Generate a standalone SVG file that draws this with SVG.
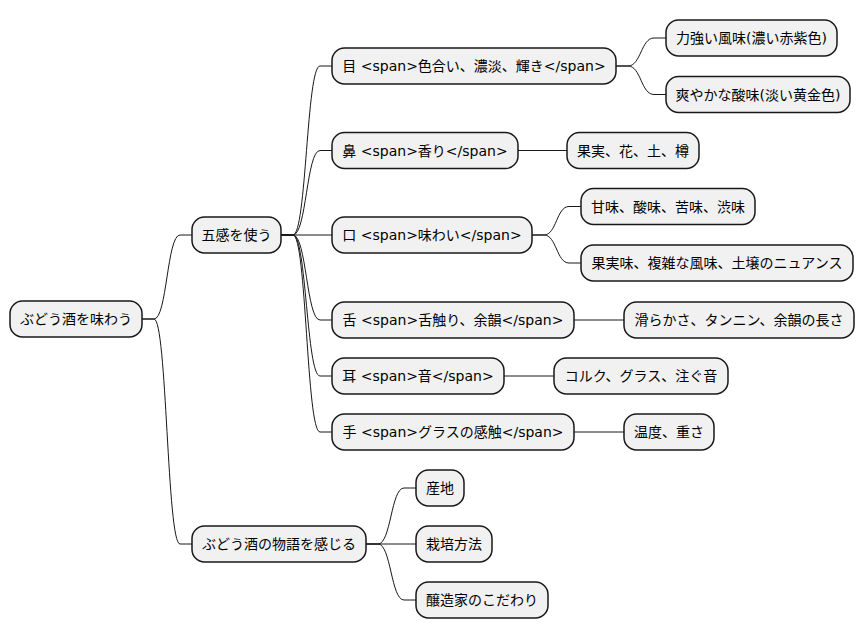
<svg xmlns="http://www.w3.org/2000/svg" width="864" height="640" viewBox="0 0 864 640">
<style>
.n rect{fill:#F1F1F1;stroke:#181818;stroke-width:1.5}
.n text{font-family:"DejaVu Sans","Noto Sans CJK JP",sans-serif;font-size:14px;fill:#000;text-anchor:middle}
#edges path{fill:none;stroke:#181818;stroke-width:1}
</style>
<rect width="864" height="640" fill="#FFFFFF"/>
<g id="edges">
<path d="M142 319 L154 319 C167 319 167 235 180 235 L192 235"/>
<path d="M142 319 L154 319 C167 319 167 544 180 544 L192 544"/>
<path d="M281 235 L293 235 C306.5 235 306.5 66 320 66 L332 66"/>
<path d="M281 235 L293 235 C306.5 235 306.5 150.5 320 150.5 L332 150.5"/>
<path d="M281 235 L332 235"/>
<path d="M281 235 L293 235 C306.5 235 306.5 320 320 320 L332 320"/>
<path d="M281 235 L293 235 C306.5 235 306.5 376 320 376 L332 376"/>
<path d="M281 235 L293 235 C306.5 235 306.5 432 320 432 L332 432"/>
<path d="M616 66 L628 66 C641 66 641 38 654 38 L666 38"/>
<path d="M616 66 L628 66 C641 66 641 94.5 654 94.5 L666 94.5"/>
<path d="M518 150.5 L567 150.5"/>
<path d="M532 235 L544 235 C556.5 235 556.5 206.5 569 206.5 L581 206.5"/>
<path d="M532 235 L544 235 C556.5 235 556.5 263 569 263 L581 263"/>
<path d="M574 320 L624 320"/>
<path d="M504 376 L554 376"/>
<path d="M574 432 L624 432"/>
<path d="M366 544 L378 544 C391 544 391 488 404 488 L416 488"/>
<path d="M366 544 L416 544"/>
<path d="M366 544 L378 544 C391 544 391 600 404 600 L416 600"/>
</g>
<g id="root" class="n"><rect x="10" y="301" width="132" height="36" rx="12.5"/><text x="76" y="324">ぶどう酒を味わう</text></g>
<g id="gokan" class="n"><rect x="192" y="217" width="89" height="36" rx="12.5"/><text x="236.5" y="240">五感を使う</text></g>
<g id="me" class="n"><rect x="332" y="48" width="284" height="36" rx="12.5"/><text x="474" y="71">目 &lt;span&gt;色合い、濃淡、輝き&lt;/span&gt;</text></g>
<g id="me1" class="n"><rect x="666" y="20" width="171" height="36" rx="12.5"/><text x="751.5" y="43">力強い風味(濃い赤紫色)</text></g>
<g id="me2" class="n"><rect x="666" y="76.5" width="184" height="36" rx="12.5"/><text x="758" y="99.5">爽やかな酸味(淡い黄金色)</text></g>
<g id="hana" class="n"><rect x="332" y="132.5" width="186" height="36" rx="12.5"/><text x="425" y="155.5">鼻 &lt;span&gt;香り&lt;/span&gt;</text></g>
<g id="hana1" class="n"><rect x="567" y="132.5" width="132" height="36" rx="12.5"/><text x="633" y="155.5">果実、花、土、樽</text></g>
<g id="kuchi" class="n"><rect x="332" y="217" width="200" height="36" rx="12.5"/><text x="432" y="240">口 &lt;span&gt;味わい&lt;/span&gt;</text></g>
<g id="kuchi1" class="n"><rect x="581" y="188.5" width="174" height="36" rx="12.5"/><text x="668" y="211.5">甘味、酸味、苦味、渋味</text></g>
<g id="kuchi2" class="n"><rect x="581" y="245" width="272" height="36" rx="12.5"/><text x="717" y="268">果実味、複雑な風味、土壌のニュアンス</text></g>
<g id="shita" class="n"><rect x="332" y="302" width="242" height="36" rx="12.5"/><text x="453" y="325">舌 &lt;span&gt;舌触り、余韻&lt;/span&gt;</text></g>
<g id="shita1" class="n"><rect x="624" y="302" width="230" height="36" rx="12.5"/><text x="739" y="325">滑らかさ、タンニン、余韻の長さ</text></g>
<g id="mimi" class="n"><rect x="332" y="358" width="172" height="36" rx="12.5"/><text x="418" y="381">耳 &lt;span&gt;音&lt;/span&gt;</text></g>
<g id="mimi1" class="n"><rect x="554" y="358" width="174" height="36" rx="12.5"/><text x="641" y="381">コルク、グラス、注ぐ音</text></g>
<g id="te" class="n"><rect x="332" y="414" width="242" height="36" rx="12.5"/><text x="453" y="437">手 &lt;span&gt;グラスの感触&lt;/span&gt;</text></g>
<g id="te1" class="n"><rect x="624" y="414" width="90" height="36" rx="12.5"/><text x="669" y="437">温度、重さ</text></g>
<g id="story" class="n"><rect x="192" y="526" width="174" height="36" rx="12.5"/><text x="279" y="549">ぶどう酒の物語を感じる</text></g>
<g id="story1" class="n"><rect x="416" y="470" width="48" height="36" rx="12.5"/><text x="440" y="493">産地</text></g>
<g id="story2" class="n"><rect x="416" y="526" width="76" height="36" rx="12.5"/><text x="454" y="549">栽培方法</text></g>
<g id="story3" class="n"><rect x="416" y="582" width="132" height="36" rx="12.5"/><text x="482" y="605">醸造家のこだわり</text></g>
</svg>
